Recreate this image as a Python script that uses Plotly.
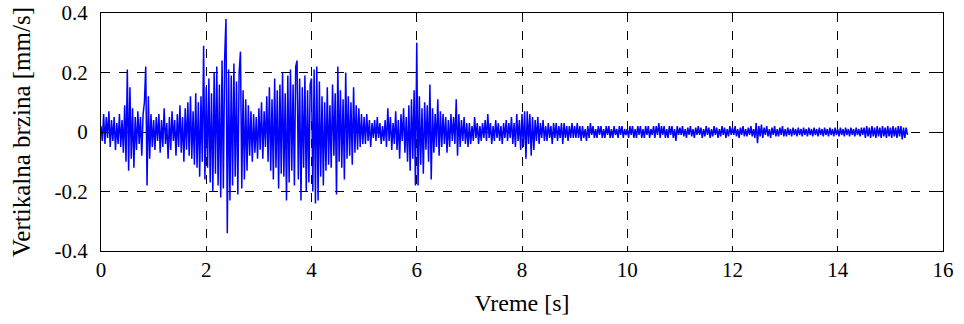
import numpy as np
import plotly.graph_objects as go

# Vertical velocity [mm/s], one list per second of record
v_00 = [0.02,-0.03,0.06,-0.04,0.05,-0.02,0.07,-0.05,0.04,-0.03,0.05,-0.06,0.03,-0.04,0.06,-0.05,0.04,-0.07,0.09,-0.10,
        0.21,-0.13,0.15,-0.09,0.08,-0.12,0.05,-0.06,0.07,-0.04,0.05,-0.08,0.06,0.10,0.22,-0.18,0.12,-0.09,0.06,-0.05]
v_01 = [0.04,-0.06,0.05,-0.03,0.06,-0.07,0.04,-0.05,0.08,-0.04,0.03,-0.09,0.05,-0.06,0.07,-0.03,0.04,-0.08,0.06,-0.05,
        0.09,-0.07,0.05,-0.10,0.08,-0.06,0.10,-0.08,0.12,-0.09,0.07,-0.11,0.13,-0.12,0.10,-0.15,0.12,-0.10,0.29,-0.16]
v_02 = [0.15,-0.12,0.18,-0.17,0.13,-0.20,0.20,-0.14,0.22,-0.18,0.16,-0.22,0.24,-0.19,0.25,0.38,-0.34,0.21,-0.23,0.19,
        -0.18,0.23,-0.15,0.17,-0.21,0.20,0.27,-0.19,0.14,-0.16,0.11,-0.13,0.09,-0.08,0.07,-0.10,0.06,-0.07,0.05,-0.09]
v_03 = [0.08,-0.06,0.10,-0.09,0.07,-0.05,0.12,-0.10,0.15,-0.13,0.11,-0.16,0.18,-0.12,0.14,-0.19,0.16,-0.14,0.20,-0.15,
        0.13,-0.23,0.19,-0.17,0.21,-0.13,0.16,-0.18,0.22,0.24,-0.16,0.18,-0.23,0.15,-0.12,0.19,-0.20,0.14,-0.17,0.16]
v_04 = [0.18,-0.20,0.21,-0.24,0.22,-0.23,0.17,-0.15,0.12,-0.18,0.10,-0.13,0.15,-0.11,0.09,-0.12,0.16,-0.08,0.13,-0.21,
        0.22,-0.10,0.14,-0.12,0.11,-0.16,0.20,-0.09,0.12,-0.08,0.10,-0.11,0.15,-0.07,0.09,-0.06,0.08,-0.05,0.06,-0.04]
v_05 = [0.05,-0.04,0.06,-0.03,0.04,-0.05,0.03,-0.02,0.04,-0.03,0.05,-0.02,0.03,-0.04,0.02,-0.03,0.04,-0.05,0.08,-0.03,
        0.05,-0.06,0.03,-0.04,0.07,-0.06,0.04,-0.09,0.06,-0.03,0.08,-0.07,0.05,-0.10,0.09,-0.13,0.11,-0.09,0.14,-0.18]
v_06 = [0.30,-0.18,0.12,-0.11,0.08,-0.14,0.10,-0.06,0.09,-0.10,0.16,-0.16,0.08,-0.07,0.06,-0.05,0.11,-0.08,0.07,-0.05,
        0.06,-0.04,0.05,-0.07,0.04,-0.05,0.06,-0.03,0.05,-0.04,0.11,-0.08,0.06,-0.05,0.04,-0.03,0.05,-0.04,0.03,-0.05]
v_07 = [0.03,-0.04,0.02,-0.03,0.05,-0.02,0.03,-0.04,0.02,-0.03,0.03,-0.02,0.04,-0.03,0.06,-0.02,0.03,-0.04,0.02,-0.03,
        0.04,-0.02,0.03,-0.03,0.02,-0.04,0.03,-0.02,0.04,-0.03,0.03,-0.02,0.05,-0.04,0.03,-0.05,0.06,-0.03,0.04,-0.06]
v_08 = [0.06,-0.05,0.07,-0.09,0.07,-0.04,0.06,-0.08,0.05,-0.06,0.04,-0.03,0.05,-0.04,0.03,-0.02,0.04,-0.03,0.02,-0.03,
        0.03,-0.02,0.02,-0.04,0.03,-0.02,0.03,-0.03,0.02,-0.02,0.03,-0.04,0.03,-0.02,0.02,-0.03,0.02,-0.02,0.03,-0.02]
v_09 = [0.02,-0.02,0.03,-0.02,0.02,-0.03,0.02,-0.02,0.01,-0.03,0.02,-0.02,0.03,-0.01,0.02,-0.02,0.01,-0.02,0.02,-0.01,
        0.02,-0.02,0.01,-0.02,0.02,-0.01,0.02,-0.02,0.01,-0.02,0.02,-0.01,0.01,-0.02,0.02,-0.01,0.02,-0.02,0.01,-0.01]
v_10 = [0.01,-0.02,0.02,-0.01,0.02,-0.02,0.01,-0.02,0.02,-0.01,0.02,-0.02,0.01,-0.02,0.02,-0.01,0.02,-0.02,0.01,-0.01,
        0.02,-0.02,0.02,-0.01,0.03,-0.02,0.02,-0.01,0.02,-0.02,0.01,-0.02,0.02,-0.01,0.02,-0.02,0.01,-0.03,0.02,-0.01]
v_11 = [0.015,-0.01,0.02,-0.015,0.01,-0.02,0.015,-0.01,0.02,-0.015,0.01,-0.02,0.015,-0.01,0.02,-0.01,0.015,-0.02,0.01,-0.015,
        0.02,-0.01,0.015,-0.02,0.01,-0.015,0.02,-0.01,0.015,-0.02,0.01,-0.015,0.02,-0.01,0.015,-0.02,0.01,-0.015,0.02,-0.01]
v_12 = [0.015,-0.01,0.02,-0.015,0.01,-0.02,0.015,-0.01,0.02,-0.015,0.01,-0.015,0.015,-0.01,0.02,-0.015,0.01,-0.02,0.03,-0.038,
        0.02,-0.015,0.025,-0.02,0.015,-0.01,0.02,-0.015,0.01,-0.02,0.015,-0.01,0.02,-0.015,0.01,-0.015,0.015,-0.01,0.02,-0.015]
v_13 = [0.01,-0.015,0.015,-0.01,0.01,-0.015,0.015,-0.01,0.01,-0.015,0.015,-0.01,0.01,-0.015,0.015,-0.01,0.01,-0.015,0.015,-0.01,
        0.01,-0.015,0.015,-0.01,0.01,-0.015,0.015,-0.01,0.01,-0.015,0.015,-0.01,0.01,-0.015,0.015,-0.01,0.01,-0.015,0.015,-0.01]
v_14 = [0.01,-0.015,0.015,-0.01,0.01,-0.015,0.015,-0.01,0.01,-0.015,0.015,-0.01,0.01,-0.015,0.015,-0.01,0.01,-0.015,0.015,-0.01,
        0.015,-0.02,0.02,-0.015,0.015,-0.02,0.02,-0.015,0.015,-0.02,0.02,-0.015,0.015,-0.02,0.02,-0.015,0.015,-0.02,0.02,-0.015]
v_15 = [0.015,-0.02,0.02,-0.015,0.015,-0.02,0.02,-0.015,0.02,-0.025,0.015,-0.02,0.015,-0.01]

segments = [v_00, v_01, v_02, v_03, v_04, v_05, v_06, v_07, v_08, v_09, v_10, v_11, v_12, v_13, v_14, v_15]
segment_start = list(range(16))                       # s
segment_length = [1.0] * 15 + [0.35]                  # s

x_ticks = [0, 2, 4, 6, 8, 10, 12, 14, 16]
y_ticks = [-0.4, -0.2, 0, 0.2, 0.4]
y_tick_labels = ["-0.4", "-0.2", "0", "0.2", "0.4"]

t_all, v_all = [], []
for start, length, seg in zip(segment_start, segment_length, segments):
    n = len(seg)
    t_all.extend(start + np.arange(n) * (length / n))
    v_all.extend(seg)

FONT = "Liberation Serif"

fig = go.Figure()
fig.add_trace(go.Scatter(x=t_all, y=v_all, mode="lines",
                         line=dict(color="#0000ff", width=1.5), showlegend=False,
                         hoverinfo="skip"))

axis_common = dict(showline=True, linecolor="black", linewidth=1, mirror="allticks",
                   ticks="inside", ticklen=5, tickcolor="black",
                   showgrid=True, gridcolor="black", gridwidth=1, griddash="dash",
                   zeroline=False, automargin=False,
                   tickfont=dict(family=FONT, size=21, color="black"))

fig.update_xaxes(range=[0, 16], tickvals=x_ticks, ticktext=[str(v) for v in x_ticks],
                 title=dict(text="Vreme [s]", font=dict(family=FONT, size=24, color="black"), standoff=12),
                 ticklabelstandoff=0, **axis_common)
fig.update_yaxes(range=[-0.4, 0.4], tickvals=y_ticks, ticktext=y_tick_labels,
                 title=dict(text="Vertikalna brzina [mm/s]", font=dict(family=FONT, size=25, color="black"), standoff=16),
                 ticklabelstandoff=8, **axis_common)

fig.update_layout(width=964, height=324, plot_bgcolor="white", paper_bgcolor="white",
                  margin=dict(l=101, r=21, t=13, b=73), font=dict(family=FONT, color="black"))

fig.write_html("out.html", config={"displayModeBar": False},
               post_script="document.body.style.margin='0';document.body.style.overflow='hidden';")
